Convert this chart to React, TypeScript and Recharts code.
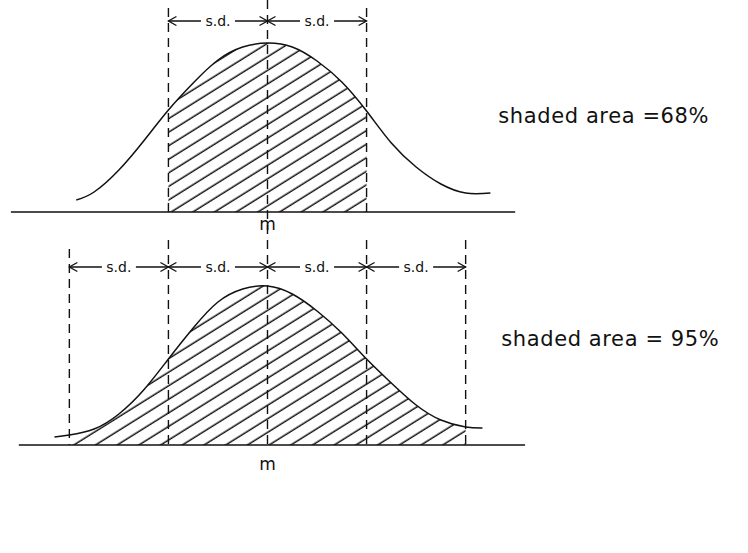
import {
  ComposedChart,
  Line,
  Area,
  XAxis,
  YAxis,
  ReferenceLine,
  ReferenceDot,
} from "recharts";

// positions along the x axis are in standard deviations from the mean
const TOP_SD = [-1.93, -1.75, -1.5, -1.25, -1, -0.75, -0.5, -0.25, 0, 0.25, 0.5, 0.75, 1, 1.25, 1.5, 1.75, 2, 2.25];
const TOP_HEIGHT = [12, 20, 42, 71, 102, 129, 152, 165, 169, 165, 151, 130, 101, 69, 45, 28, 19, 19];
const TOP_SHADED = [-1, 1];

const BOTTOM_SD = [-2.15, -2, -1.75, -1.5, -1.25, -1, -0.75, -0.5, -0.25, 0, 0.25, 0.5, 0.75, 1, 1.25, 1.5, 1.75, 2, 2.17];
const BOTTOM_HEIGHT = [8, 10, 16, 31, 55, 86, 117, 143, 156, 159, 151, 134, 112, 86, 62, 40, 25, 18, 17];
const BOTTOM_SHADED = [-2, 2];

const TOP_MARKS = [-1, 0, 1];
const BOTTOM_MARKS = [-2, -1, 0, 1, 2];

const SD_LABEL = "s.d.";
const MEAN_LABEL = "m";
const TOP_NOTE = "shaded area =68%";
const BOTTOM_NOTE = "shaded area = 95%";

const X_DOMAIN = [-2.7, 4.85];
const INK = "#111";
const FONT = "'DejaVu Sans', sans-serif";

function buildRows(sd: number[], height: number[], shaded: number[]) {
  return sd.map((x, i) => ({
    x,
    curve: height[i],
    shade: x >= shaded[0] && x <= shaded[1] ? height[i] : null,
  }));
}

const topRows = buildRows(TOP_SD, TOP_HEIGHT, TOP_SHADED);
const bottomRows = buildRows(BOTTOM_SD, BOTTOM_HEIGHT, BOTTOM_SHADED);

function Hatch({ id }: { id: string }) {
  return (
    <defs>
      <pattern
        id={id}
        patternUnits="userSpaceOnUse"
        width={12}
        height={11.5}
        patternTransform="rotate(-32)"
      >
        <line x1={0} y1={6} x2={12} y2={6} stroke={INK} strokeWidth={1.5} />
      </pattern>
    </defs>
  );
}

function SdSpan(props: any) {
  const { x1, y1, x2 } = props;
  const mid = (x1 + x2) / 2;
  const half = 17;
  const head = 8;
  return (
    <g stroke={INK} strokeWidth={1.3} fill="none">
      <line x1={x1} y1={y1} x2={mid - half} y2={y1} />
      <line x1={mid + half} y1={y1} x2={x2} y2={y1} />
      <polyline points={`${x1 + head},${y1 - 4.5} ${x1},${y1} ${x1 + head},${y1 + 4.5}`} />
      <polyline points={`${x2 - head},${y1 - 4.5} ${x2},${y1} ${x2 - head},${y1 + 4.5}`} />
      <text
        x={mid}
        y={y1 + 5}
        textAnchor="middle"
        fill={INK}
        stroke="none"
        fontSize={14}
        fontFamily={FONT}
      >
        {SD_LABEL}
      </text>
    </g>
  );
}

function textShape(value: string, size: number, anchor: "start" | "middle") {
  return (p: any) => (
    <text
      x={p.cx}
      y={p.cy}
      textAnchor={anchor}
      fill={INK}
      fontSize={size}
      fontFamily={FONT}
      letterSpacing={anchor === "start" ? 0.6 : 0}
    >
      {value}
    </text>
  );
}

const dashed = { stroke: INK, strokeWidth: 1.4, strokeDasharray: "9 6" };

function App() {
  return (
    <div style={{ position: "absolute", left: 0, top: 0, width: 748, height: 553, background: "#fff" }}>
      <div style={{ position: "absolute", left: 0, top: 0 }}>
        <ComposedChart width={748} height={240} data={topRows} margin={{ top: 0, right: 0, bottom: 0, left: 0 }}>
          <Hatch id="hatchTop" />
          <XAxis type="number" dataKey="x" domain={X_DOMAIN} hide allowDataOverflow />
          <YAxis type="number" domain={[-28, 212]} hide width={0} allowDataOverflow />
          <Area
            dataKey="shade"
            type="natural"
            stroke="none"
            fill="url(#hatchTop)"
            fillOpacity={1}
            baseValue={0}
            isAnimationActive={false}
            activeDot={false}
          />
          <Line
            dataKey="curve"
            type="natural"
            stroke={INK}
            strokeWidth={1.5}
            dot={false}
            activeDot={false}
            isAnimationActive={false}
          />
          <ReferenceLine segment={[{ x: -2.59, y: 0 }, { x: 2.5, y: 0 }]} stroke={INK} strokeWidth={1.5} />
          {TOP_MARKS.map((m) => (
            <ReferenceLine
              key={m}
              segment={[{ x: m, y: m === 0 ? 212 : 204 }, { x: m, y: m === 0 ? -28 : 0 }]}
              {...dashed}
            />
          ))}
          {TOP_MARKS.slice(1).map((m, i) => (
            <ReferenceLine
              key={`sd${m}`}
              segment={[{ x: TOP_MARKS[i], y: 191 }, { x: m, y: 191 }]}
              shape={SdSpan}
            />
          ))}
          <ReferenceDot x={0} y={-18} r={0} shape={textShape(MEAN_LABEL, 17, "middle")} />
          <ReferenceDot x={2.33} y={89} r={0} shape={textShape(TOP_NOTE, 21, "start")} />
        </ComposedChart>
      </div>
      <div style={{ position: "absolute", left: 0, top: 240 }}>
        <ComposedChart width={748} height={240} data={bottomRows} margin={{ top: 0, right: 0, bottom: 0, left: 0 }}>
          <Hatch id="hatchBottom" />
          <XAxis type="number" dataKey="x" domain={X_DOMAIN} hide allowDataOverflow />
          <YAxis type="number" domain={[-35, 205]} hide width={0} allowDataOverflow />
          <Area
            dataKey="shade"
            type="natural"
            stroke="none"
            fill="url(#hatchBottom)"
            fillOpacity={1}
            baseValue={0}
            isAnimationActive={false}
            activeDot={false}
          />
          <Line
            dataKey="curve"
            type="natural"
            stroke={INK}
            strokeWidth={1.5}
            dot={false}
            activeDot={false}
            isAnimationActive={false}
          />
          <ReferenceLine segment={[{ x: -2.51, y: 0 }, { x: 2.6, y: 0 }]} stroke={INK} strokeWidth={1.5} />
          {BOTTOM_MARKS.map((m) => (
            <ReferenceLine
              key={m}
              segment={[{ x: m, y: m === -2 ? 196 : 205 }, { x: m, y: 0 }]}
              {...dashed}
            />
          ))}
          {BOTTOM_MARKS.slice(1).map((m, i) => (
            <ReferenceLine
              key={`sd${m}`}
              segment={[{ x: BOTTOM_MARKS[i], y: 178 }, { x: m, y: 178 }]}
              shape={SdSpan}
            />
          ))}
          <ReferenceDot x={0} y={-25} r={0} shape={textShape(MEAN_LABEL, 17, "middle")} />
          <ReferenceDot x={2.36} y={99} r={0} shape={textShape(BOTTOM_NOTE, 21, "start")} />
        </ComposedChart>
      </div>
    </div>
  );
}

export default App;
